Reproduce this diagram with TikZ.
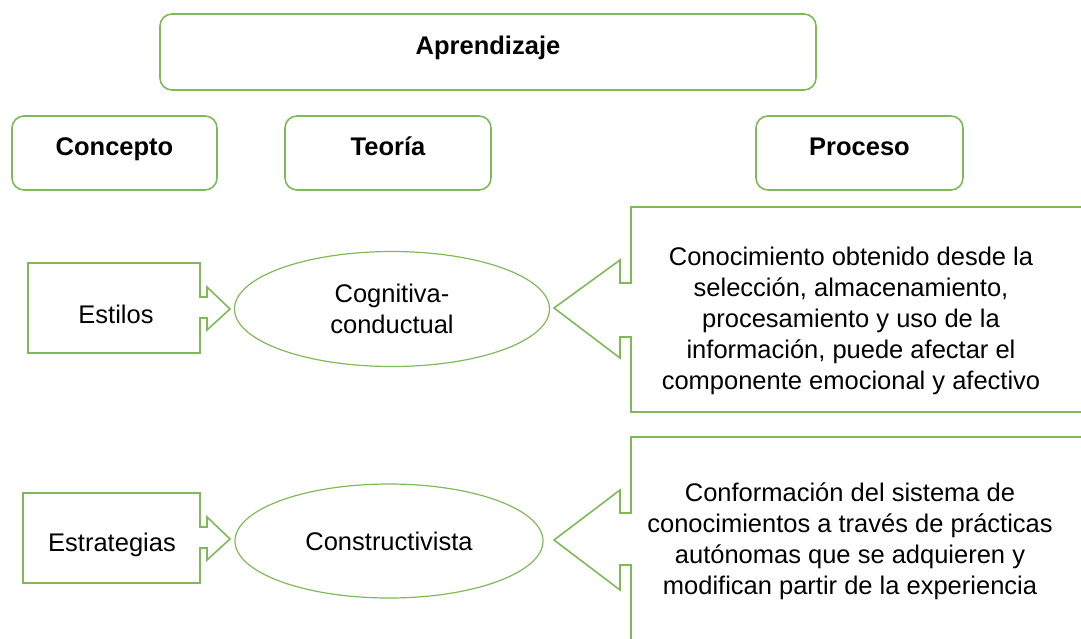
\documentclass[tikz,border=0pt]{standalone}
\usepackage{fontspec}
\setmainfont{Liberation Sans}
\usetikzlibrary{shapes.geometric}
\definecolor{leafgreen}{RGB}{128,186,88}
\tikzset{
	headbox/.style={draw=leafgreen, line width=1.6pt, rounded corners=12pt, inner sep=0pt},
	bubble/.style={draw=leafgreen, line width=1.2pt, ellipse, inner sep=0pt, align=center},
	callout/.style={draw=leafgreen, line width=1.6pt, line join=miter},
	bodytext/.style={font=\fontsize{25.5}{31}\selectfont, align=center, inner sep=0pt},
	headtext/.style={font=\fontsize{25.5}{31}\selectfont\bfseries, text height=18pt, text depth=5pt, yshift=4.5pt}
}

\begin{document}
\begin{tikzpicture}[x=1pt, y=-1pt, every node/.style={bodytext}]
		%%%%% START %%%%%
		\useasboundingbox (0, 0) rectangle (1081, 638);
		\clip (0, 0) rectangle (1081, 638);
		
		% top row
		\node[headbox, minimum width=656, minimum height=76, label={[headtext]center:Aprendizaje}] (aprendizaje) at (488, 52) {};
		\node[headbox, minimum width=205, minimum height=74, label={[headtext]center:Concepto}] (concepto) at (114.5, 153) {};
		\node[headbox, minimum width=206, minimum height=74, label={[headtext]center:Teoría}] (teoria) at (388, 153) {};
		\node[headbox, minimum width=207, minimum height=74, label={[headtext]center:Proceso}] (proceso) at (859.5, 153) {};
		
		% first row
		\draw[callout] (28, 263) -- (200, 263) -- (200, 297) -- (207, 297) -- (207, 287) -- (230, 309)
			-- (207, 330) -- (207, 318) -- (200, 318) -- (200, 353) -- (28, 353) -- cycle;
		\node (estilos) at (116, 314) {Estilos};
		
		\node[bubble, minimum width=315, minimum height=115] (cognitiva) at (392, 309) {Cognitiva-\\conductual};
		
		\draw[callout] (1095, 207) -- (631, 207) -- (631, 283) -- (620, 283) -- (620, 260) -- (554, 308)
			-- (620, 358) -- (620, 337) -- (631, 337) -- (631, 412) -- (1095, 412);
		\node (conocimiento) at (851, 321) {Conocimiento obtenido desde la\\selección, almacenamiento,\\procesamiento y uso de la\\información, puede afectar el\\componente emocional y afectivo};
		
		% second row
		\draw[callout] (23, 493) -- (200, 493) -- (200, 527) -- (207, 527) -- (207, 517) -- (230, 539)
			-- (207, 560) -- (207, 548) -- (200, 548) -- (200, 583) -- (23, 583) -- cycle;
		\node (estrategias) at (112, 545) {Estrategias};
		
		\node[bubble, minimum width=308, minimum height=114] (constructivista) at (389, 541) {Constructivista};
		
		\draw[callout] (1095, 437) -- (631, 437) -- (631, 513) -- (620, 513) -- (620, 490) -- (554, 540)
			-- (620, 590) -- (620, 565) -- (631, 565) -- (631, 650);
		\node (conformacion) at (850, 541) {Conformación del sistema de\\conocimientos a través de prácticas\\autónomas que se adquieren y\\modifican partir de la experiencia};
		%%%%% END %%%%%
\end{tikzpicture}
\end{document}
